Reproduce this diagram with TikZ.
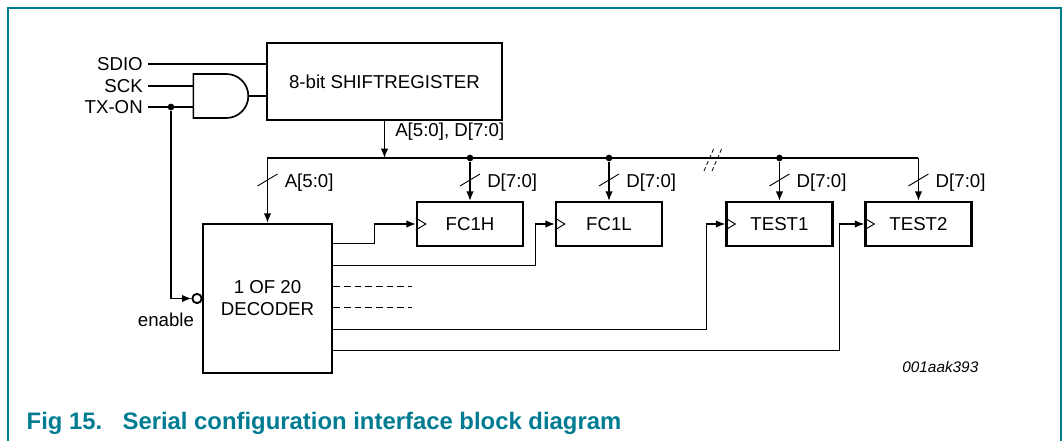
\documentclass[tikz,border=0pt]{standalone}
\usepackage{fontspec}
\setmainfont{Liberation Sans}
\usetikzlibrary{arrows.meta, shapes.gates.logic.US}
\definecolor{nxpteal}{RGB}{0,124,146}

\tikzstyle{block} = [rectangle,
draw=black,
line width=1.8pt,
text centered,
inner sep=0pt]
\tikzstyle{shiftreg} = [block, minimum width=176.25pt, minimum height=57.75pt]
\tikzstyle{reg} = [block, minimum width=79.5pt, minimum height=33pt]
\tikzstyle{decoder} = [block, minimum width=96.75pt, minimum height=111.75pt,
align=center, font=\fontsize{14}{16.5}\selectfont]
\tikzstyle{sig} = [anchor=east, inner sep=0pt]
\tikzstyle{buslabel} = [anchor=base west, inner sep=0pt]
\tikzstyle{dot} = [circle, fill=black, inner sep=0pt, minimum size=5pt]
\tikzstyle{wire} = [line width=0.9pt]
\tikzstyle{dashline} = [line width=0.9pt, dash pattern=on 5pt off 3pt]
\tikzstyle{arrow} = [line width=0.9pt,->,>={Latex[length=7pt, width=5.5pt]}]

\begin{document}
\begin{tikzpicture}[x=0.75pt, y=-0.75pt, node distance=104.25pt,
font=\fontsize{14}{16.5}\selectfont]

    \useasboundingbox (0,0) rectangle (1064,441);
    \draw [nxpteal, line width=1.5pt] (8,441) -- (8,8) -- (1061,8) -- (1061,441);

    \node (sdio) [sig] at (143,64) {SDIO};
    \node (sck) [sig] at (143,86) {SCK};
    \node (txon) [sig] at (143,107) {TX-ON};

    \node (gate) [and gate US, draw, line width=1.25pt, logic gate inputs=nn,
        minimum width=40.5pt, minimum height=33pt, inner sep=0pt] at (219,96) {};
    \node (shift) [shiftreg] at (384.5,81.5) {8-bit SHIFTREGISTER};

    \node (dec) [decoder] at (267.5,298.5) {1 OF 20\\DECODER};
    \node (inv) [circle, draw, line width=1.4pt, inner sep=0pt, minimum size=7pt] at (197,298.5) {};
    \node (enable) [anchor=base] at (166,327) {enable};

    \node (fc1h) [reg] at (470,224) {FC1H};
    \node (fc1l) [reg, right of=fc1h] {FC1L};
    \node (test1) [reg, right of=fc1l, xshift=23.6pt] {TEST1};
    \node (test2) [reg, right of=test1] {TEST2};

    % serial inputs
    \draw [wire] ([xshift=3.75pt]sdio.east) -- (sdio.east -| shift.west);
    \draw [wire] ([xshift=3.75pt]sck.east) -- (sck.east -| gate.west);
    \draw [wire] ([xshift=3.75pt]txon.east) -- (txon.east -| gate.west);
    \draw [wire] (gate.output) -- (gate.output -| shift.west);
    \node (tap) [dot] at (171,107) {};
    \draw [arrow] (tap) |- (inv.west);

    % bus
    \coordinate (busl) at (267.5,158);
    \coordinate (busr) at (test2 |- busl);
    \draw [arrow] (shift.south) -- (shift.south |- busl);
    \node (buslabel) [buslabel] at (395,137) {A[5:0], D[7:0]};
    \draw [arrow] (busr) -| (dec.north);
    \draw [arrow] (busr) -- (test2.north);
    \foreach \n in {fc1h, fc1l, test1} {
        \node (tap-\n) [dot] at (\n |- busl) {};
        \draw [arrow] (tap-\n) -- (\n.north);
    }
    \foreach \n/\bits in {dec/A[5:0], fc1h/D[7:0], fc1l/D[7:0], test1/D[7:0], test2/D[7:0]} {
        \draw [wire, line width=0.7pt] (\n |- 0,180) ++(-10,6) -- ++(20,-12);
        \path (\n |- 0,188) ++(17,0) node [buslabel] {\bits};
    }
    \draw [line width=0.6pt, densely dashed] (704,171) -- (714,148);
    \draw [line width=0.6pt, densely dashed] (712,171) -- (722,148);

    % decoder outputs
    \foreach \i/\dy in {1/21, 2/43, 3/64, 4/85, 5/107, 6/128}
        \coordinate (out\i) at ([yshift=-\dy*0.75pt]dec.north east);
    \draw [arrow] (out1) -- ++(41,0) |- (fc1h.west);
    \draw [arrow] (out2) -- ++(202,0) |- (fc1l.west);
    \draw [dashline] (out3) -- ++(79,0);
    \draw [dashline] (out4) -- ++(79,0);
    \draw [arrow] (out5) -- ++(373,0) |- (test1.west);
    \draw [arrow] (out6) -- ++(506,0) |- (test2.west);
    \foreach \n in {fc1h, fc1l, test1, test2}
        \draw [wire, line width=0.7pt] ([yshift=4.5pt]\n.west) -- ++(7.5pt,-4.5pt) -- ([yshift=-4.5pt]\n.west);

    \node (figid) [anchor=base east, font=\fontsize{11.5}{13}\itshape] at (983,373) {001aak393};
    \node (caption) [anchor=base west, text=nxpteal, font=\fontsize{17.9}{20}\bfseries]
        at (22,430) {Fig 15.\hspace{0.85em}Serial configuration interface block diagram};

\end{tikzpicture}
\end{document}
